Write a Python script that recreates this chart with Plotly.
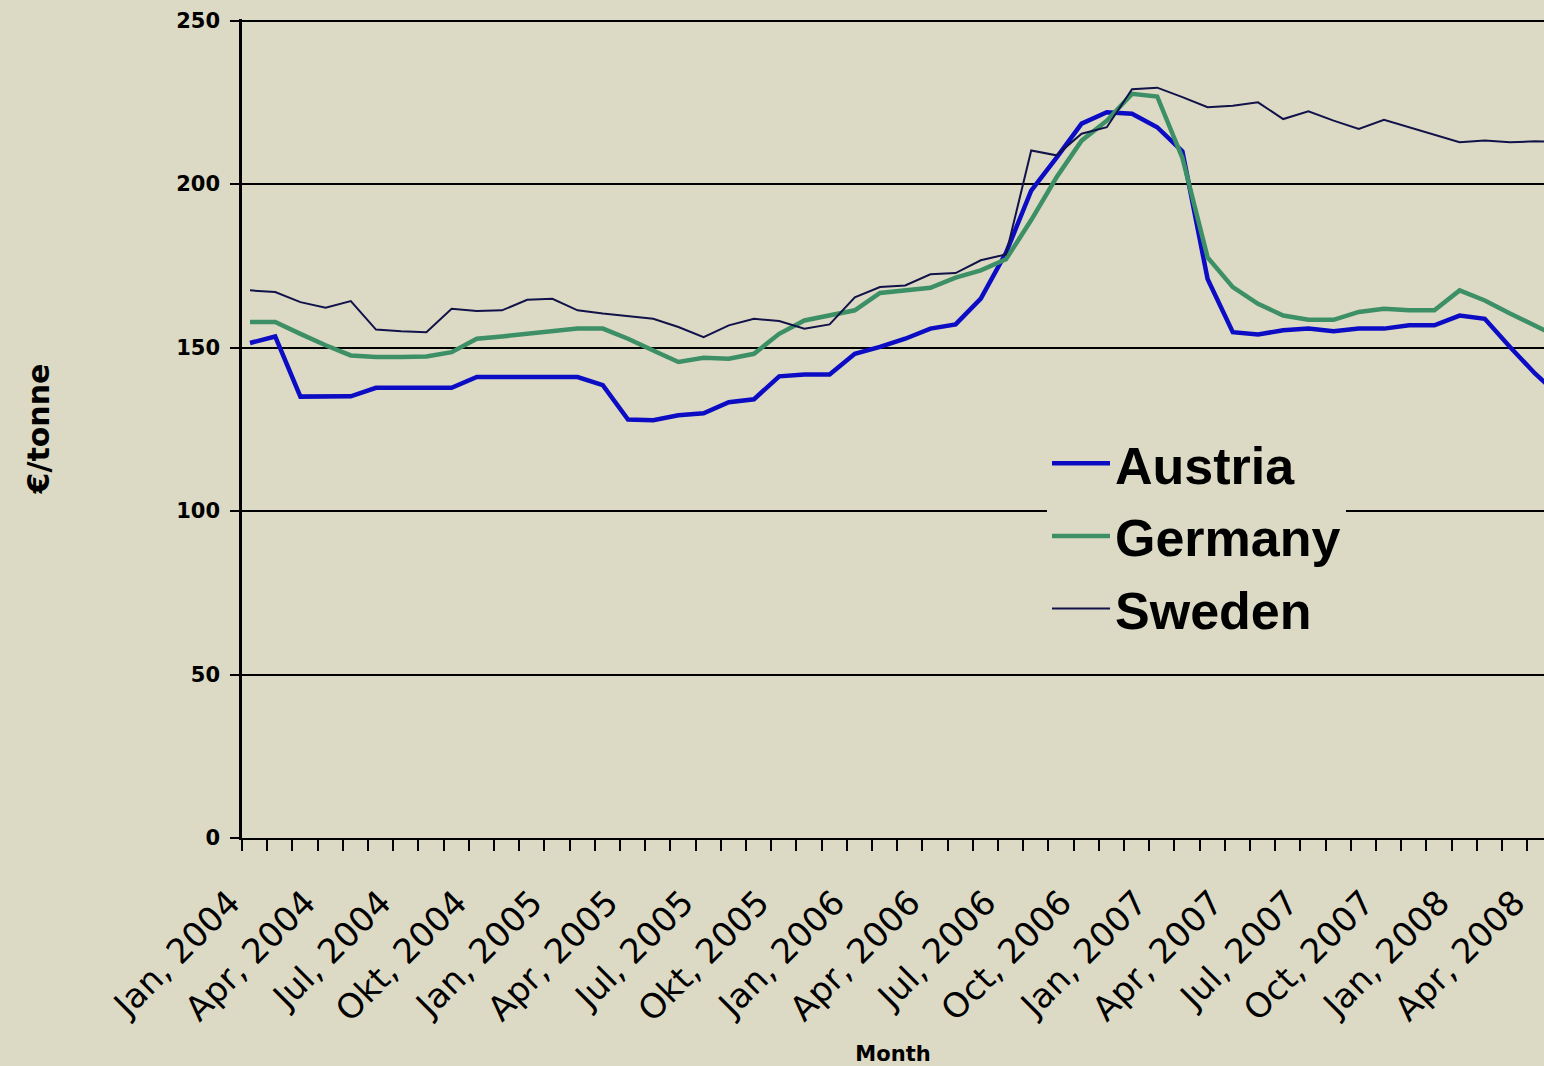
import plotly.graph_objects as go

# Monthly prices, Jan 2004 .. May 2008 (EUR/tonne)
austria = [151.4, 153.4, 135.0, 135.0, 135.1, 137.7, 137.7, 137.7, 137.7, 141.0,
           141.0, 141.0, 141.0, 141.0, 138.5, 128.0, 127.8, 129.3, 129.9, 133.3,
           134.2, 141.2, 141.8, 141.8, 148.1, 150.2, 152.7, 155.8, 157.1, 165.0,
           179.0, 198.0, 208.0, 218.5, 222.0, 221.5, 217.4, 210.0, 171.0, 154.7,
           154.0, 155.3, 155.8, 155.0, 155.8, 155.8, 156.8, 156.8, 159.8, 158.8,
           150.2, 142.0, 135.0]
germany = [157.8, 157.8, 154.2, 150.7, 147.6, 147.1, 147.1, 147.3, 148.6, 152.7,
           153.4, 154.2, 155.3, 155.8, 155.8, 152.7, 149.1, 145.6, 146.9, 146.6,
           148.1, 154.2, 158.3, 159.8, 161.4, 166.7, 167.5, 168.3, 171.4, 173.6,
           177.0, 189.0, 202.0, 213.3, 219.4, 227.6, 226.8, 208.0, 177.6, 168.5,
           163.4, 159.8, 158.5, 158.5, 160.9, 161.9, 161.4, 161.4, 167.5, 164.4,
           160.4, 156.8, 153.0]
sweden = [167.5, 167.0, 163.9, 162.2, 164.2, 155.5, 155.0, 154.7, 161.9, 161.2,
          161.4, 164.6, 164.9, 161.4, 160.4, 159.5, 158.8, 156.3, 153.2, 156.8,
          158.8, 158.1, 155.8, 157.1, 165.4, 168.5, 169.0, 172.4, 172.8, 176.7,
          178.5, 210.3, 208.8, 215.4, 217.4, 229.0, 229.5, 226.6, 223.5, 224.0,
          225.0, 219.9, 222.3, 219.4, 216.9, 219.7, 217.4, 214.9, 212.8, 213.3,
          212.8, 213.1, 213.0]

# category labels shown every third month (as written in the original)
tick_labels = ["Jan, 2004", "Apr, 2004", "Jul, 2004", "Okt, 2004",
               "Jan, 2005", "Apr, 2005", "Jul, 2005", "Okt, 2005",
               "Jan, 2006", "Apr, 2006", "Jul, 2006", "Oct, 2006",
               "Jan, 2007", "Apr, 2007", "Jul, 2007", "Oct, 2007",
               "Jan, 2008", "Apr, 2008"]
label_step = 3

n = len(austria)
x = list(range(n))

BG = "#dcdac4"
TICK_OFF = 0.32  # tick marks sit slightly left of each month's point

tickvals = [i - TICK_OFF for i in range(n)]
ticktext = []
for i in range(n):
    if i % label_step == 0 and i // label_step < len(tick_labels):
        ticktext.append(tick_labels[i // label_step])
    else:
        ticktext.append("")

fig = go.Figure()
fig.add_trace(go.Scatter(x=x, y=austria, mode="lines", name="Austria",
                         legendgroup="a",
                         line=dict(color="#0c0cc4", width=4.5)))
fig.add_trace(go.Scatter(x=x, y=germany, mode="lines", name="Germany",
                         legendgroup="g",
                         line=dict(color="#3d8f66", width=4.5)))
fig.add_trace(go.Scatter(x=x, y=sweden, mode="lines", name="Sweden",
                         legendgroup="s",
                         line=dict(color="#12124a", width=2)))

W, H = 1544, 1066
ML, MR, MT, MB = 242, 0, 19, 228
plot_w = W - ML - MR
plot_h = H - MT - MB
px_per_month = 25.2
x0 = -8 / px_per_month
x1 = x0 + plot_w / px_per_month

fig.update_layout(
    width=W, height=H,
    margin=dict(l=ML, r=MR, t=MT, b=MB, pad=0),
    paper_bgcolor=BG, plot_bgcolor=BG,
    font=dict(family="DejaVu Sans", color="black"),
    showlegend=True,
    legend=dict(
        x=(1047 - ML) / plot_w, y=(838 - 423) / plot_h,
        xanchor="left", yanchor="top",
        bgcolor=BG, borderwidth=0,
        font=dict(family="Liberation Sans", size=52, weight="bold", color="black"),
        tracegroupgap=2, itemwidth=58,
    ),
    xaxis=dict(
        range=[x0, x1],
        tickmode="array", tickvals=tickvals, ticktext=ticktext,
        tickangle=-45,
        ticks="outside", ticklen=11, tickwidth=2, tickcolor="black",
        ticklabelstandoff=18, ticklabelshift=-12,
        tickfont=dict(family="DejaVu Sans", size=34, color="black"),
        showline=True, linecolor="black", linewidth=2,
        showgrid=False, zeroline=False,
        title=dict(text="Month", standoff=18,
                   font=dict(family="DejaVu Sans", size=21, weight="bold")),
    ),
    yaxis=dict(
        range=[0, 250.5],
        tickmode="array", tickvals=[0, 50, 100, 150, 200, 250],
        ticks="outside", ticklen=9, tickwidth=2, tickcolor="black",
        ticklabelstandoff=6,
        tickfont=dict(family="DejaVu Sans", size=21, weight="bold", color="black"),
        showline=True, linecolor="black", linewidth=2.5,
        showgrid=True, gridcolor="black", gridwidth=2,
        zeroline=False,
        title=dict(text="€/tonne", standoff=118,
                   font=dict(family="DejaVu Sans", size=30, weight="bold")),
    ),
)

fig.write_html(
    "out.html",
    config={"displayModeBar": False},
    post_script="document.body.style.margin='0';document.body.style.overflow='hidden';",
)
